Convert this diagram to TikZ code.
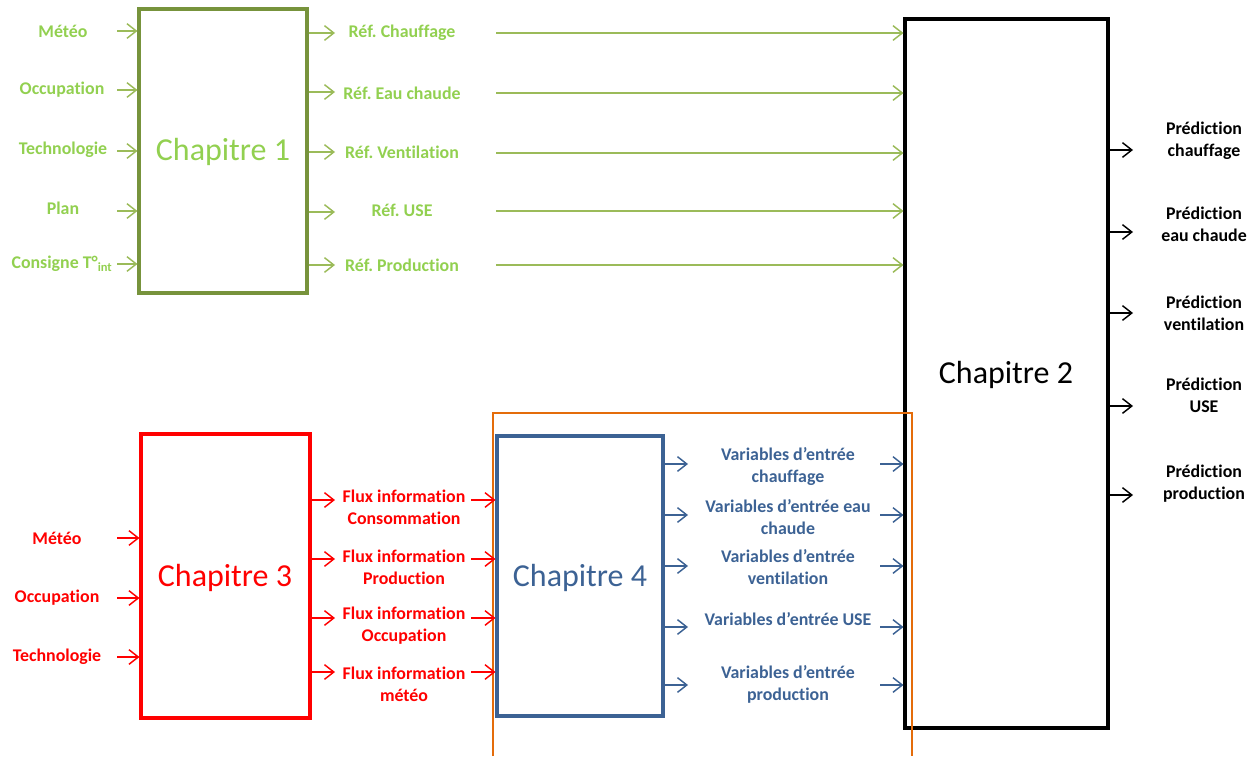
\documentclass[tikz,border=0pt]{standalone}
\usepackage{fontspec}
\setmainfont{Carlito}[Ligatures=NoCommon]
\usetikzlibrary{arrows.meta,fit}
\definecolor{lgreen}{RGB}{146,208,80}
\definecolor{lgline}{RGB}{155,187,89}
\definecolor{dgreen}{RGB}{119,147,60}
\definecolor{cred}{RGB}{255,0,0}
\definecolor{cblue}{RGB}{60,98,148}
\definecolor{corange}{RGB}{228,108,10}
\frenchspacing
\tikzset{
  box/.style={draw, line width=2.3pt, inner sep=0pt},
  title/.style={font=\fontsize{24}{29}\selectfont, inner sep=0pt},
  lab/.style={font=\fontsize{13.4}{16.5}\selectfont\bfseries, align=center, inner sep=0pt},
  arr/.style={line width=1.1pt, -{Straight Barb[length=7pt,width=11pt,line width=1.1pt]}},
}
\begin{document}
\begin{tikzpicture}[x=0.75pt,y=-0.75pt]
\useasboundingbox (0,0) rectangle (1255,756);
% boxes
\node[box, draw=dgreen, fit={(139,9) (307,293)}] (ch1) {};
\node[box, draw=black, fit={(905,19) (1108,728)}] (ch2) {};
\node[box, draw=cred, fit={(141,434) (310,718)}] (ch3) {};
\node[box, draw=cblue, fit={(497,436) (663,716)}] (ch4) {};
\node[title, text=lgreen] (ch1t) at (223,152) {Chapitre 1};
\node[title, text=black] (ch2t) at (1006,375) {Chapitre 2};
\node[title, text=cred] (ch3t) at (225,578) {Chapitre 3};
\node[title, text=cblue] (ch4t) at (580,578) {Chapitre 4};
% orange frame (open at bottom)
\coordinate (o1) at (493,756);
\coordinate (o2) at (493,413);
\coordinate (o3) at (912,413);
\coordinate (o4) at (912,756);
\draw[corange, line width=1.6pt] (o1) -- (o2) -- (o3) -- (o4);

% chapter 1 inputs
\begin{scope}[lab, text=lgreen]
\node (m1) at (63,31) {Météo};
\node (o1l) at (62,90) {Occupation};
\node (t1) at (63,150) {Technologie};
\node (p1) at (63,208) {Plan};
\node (c1) at (62,264) {Consigne T°\textsubscript{int}};
\end{scope}
\foreach \n/\y in {1/31,2/90,3/151,4/211,5/264}{
  \coordinate (ci\n) at (117,\y);
  \draw[arr, lgline] (ci\n) -- (ch1.west |- ci\n);
}
% chapter 1 outputs
\begin{scope}[lab, text=lgreen]
\node (r1) at (402,33) {Réf. Chauffage};
\node (r2) at (402,93) {Réf. Eau chaude};
\node (r3) at (402,152) {Réf. Ventilation};
\node (r4) at (402,210) {Réf. USE};
\node (r5) at (402,265) {Réf. Production};
\end{scope}
\foreach \n/\y in {1/33,2/92,3/152,4/212,5/265}{
  \coordinate (co\n) at (335,\y);
  \draw[arr, lgline] (ch1.east |- co\n) -- (co\n);
}
\foreach \n/\y in {1/33,2/93,3/153,4/211,5/265}{
  \coordinate (ls\n) at (496,\y);
  \draw[arr, lgline] (ls\n) -- (ch2.west |- ls\n);
}

% chapter 2 outputs
\begin{scope}[lab, text=black]
\node (pr1) at (1204,141) {Prédiction\\chauffage};
\node (pr2) at (1204,224) {Prédiction\\eau chaude};
\node (pr3) at (1204,313) {Prédiction\\ventilation};
\node (pr4) at (1204,395) {Prédiction\\USE};
\node (pr5) at (1204,484) {Prédiction\\production};
\end{scope}
\foreach \n/\y in {1/150,2/232,3/313,4/406,5/495}{
  \coordinate (po\n) at (1133,\y);
  \draw[arr, black] (ch2.east |- po\n) -- (po\n);
}

% chapter 3 inputs
\begin{scope}[lab, text=cred]
\node (m3) at (57,538) {Météo};
\node (o3l) at (57,598) {Occupation};
\node (t3) at (57,657) {Technologie};
\end{scope}
\foreach \n/\y in {1/538,2/598,3/657}{
  \coordinate (di\n) at (117,\y);
  \draw[arr, cred] (di\n) -- (ch3.west |- di\n);
}
% chapter 3 outputs
\begin{scope}[lab, text=cred]
\node (f1) at (404,507) {Flux information\\Consommation};
\node (f2) at (404,567) {Flux information\\Production};
\node (f3) at (404,626) {Flux information\\Occupation};
\node (f4) at (404,684) {Flux information\\météo};
\end{scope}
\foreach \n/\y in {1/500,2/559,3/618,4/672}{
  \coordinate (do\n) at (335,\y);
  \coordinate (dq\n) at (471,\y);
  \draw[arr, cred] (ch3.east |- do\n) -- (do\n);
  \draw[arr, cred] (dq\n) -- (ch4.west |- dq\n);
}

% chapter 4 outputs
\begin{scope}[lab, text=cblue]
\node (v1) at (788,467) {Variables d’entrée\\chauffage};
\node (v2) at (788,517) {Variables d’entrée eau\\chaude};
\node (v3) at (788,567) {Variables d’entrée\\ventilation};
\node (v4) at (788,619) {Variables d’entrée USE};
\node (v5) at (788,684) {Variables d’entrée\\production};
\end{scope}
\foreach \n/\y in {1/464,2/515,3/566,4/627,5/685}{
  \coordinate (eo\n) at (688,\y);
  \coordinate (eq\n) at (880,\y);
  \draw[arr, cblue] (ch4.east |- eo\n) -- (eo\n);
  \draw[arr, cblue] (eq\n) -- (ch2.west |- eq\n);
}
\end{tikzpicture}
\end{document}
